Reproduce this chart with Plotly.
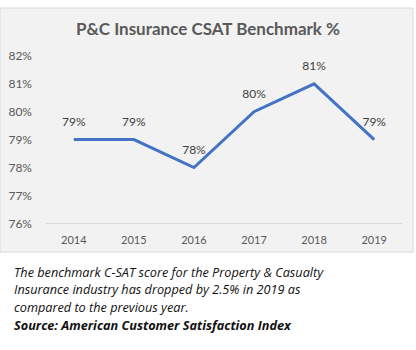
import plotly.graph_objects as go

years = ["2014", "2015", "2016", "2017", "2018", "2019"]
csat = [79, 79, 78, 80, 81, 79]
y_ticks = [76, 77, 78, 79, 80, 81, 82]
title_text = "P&C Insurance CSAT Benchmark %"
caption_lines = [
    "The benchmark C-SAT score for the Property & Casualty",
    "Insurance industry has dropped by 2.5% in 2019 as",
    "compared to the previous year.",
    "<b>Source: American Customer Satisfaction Index</b>",
]

W, H = 416, 350
fig = go.Figure()
fig.add_trace(go.Scatter(
    x=years, y=csat, mode="lines+markers+text",
    text=[f"{v}%" for v in csat], textposition="top center",
    textfont=dict(family="Lato", size=12, color="#404040"),
    line=dict(color="#4472C4", width=3),
    marker=dict(size=16, opacity=0),
    cliponaxis=False, hoverinfo="skip",
))

fig.add_shape(type="rect", xref="paper", yref="paper",
              x0=0, x1=413 / W, y0=1 - 255 / H, y1=1,
              fillcolor="#f2f2f2", line=dict(color="#d9d9d9", width=1), layer="below")

fig.add_annotation(text=f"<b>{title_text}</b>", xref="paper", yref="paper",
                   x=208 / W, y=1 - 21 / H, showarrow=False,
                   font=dict(family="Lato", size=17, color="#595959"),
                   xanchor="center", yanchor="middle")

line_y = [276, 294, 312, 331]
for txt, yy in zip(caption_lines, line_y):
    fig.add_annotation(text=f"<i>{txt}</i>", xref="paper", yref="paper",
                       x=12 / W, y=1 - yy / H, showarrow=False, align="left",
                       font=dict(family="Open Sans", size=12.7, color="#111111"),
                       xanchor="left", yanchor="middle")

fig.update_layout(
    width=W, height=H, margin=dict(l=0, r=0, t=0, b=0),
    paper_bgcolor="white", plot_bgcolor="rgba(0,0,0,0)",
    showlegend=False,
    xaxis=dict(domain=[46 / W, 402 / W], type="category",
               showgrid=False, showline=True, linecolor="#d9d9d9", linewidth=1,
               ticks="", tickfont=dict(family="Lato", size=11, color="#595959"),
               ticklabelstandoff=6, fixedrange=True),
    yaxis=dict(domain=[1 - 225 / H, 1 - 50 / H], range=[76, 82],
               tickvals=y_ticks, ticktext=[f"{v}%" for v in y_ticks],
               showgrid=False, zeroline=False, showline=False, ticks="",
               tickfont=dict(family="Lato", size=12, color="#595959"),
               ticklabelstandoff=13, fixedrange=True),
)

fig.write_html("out.html")
